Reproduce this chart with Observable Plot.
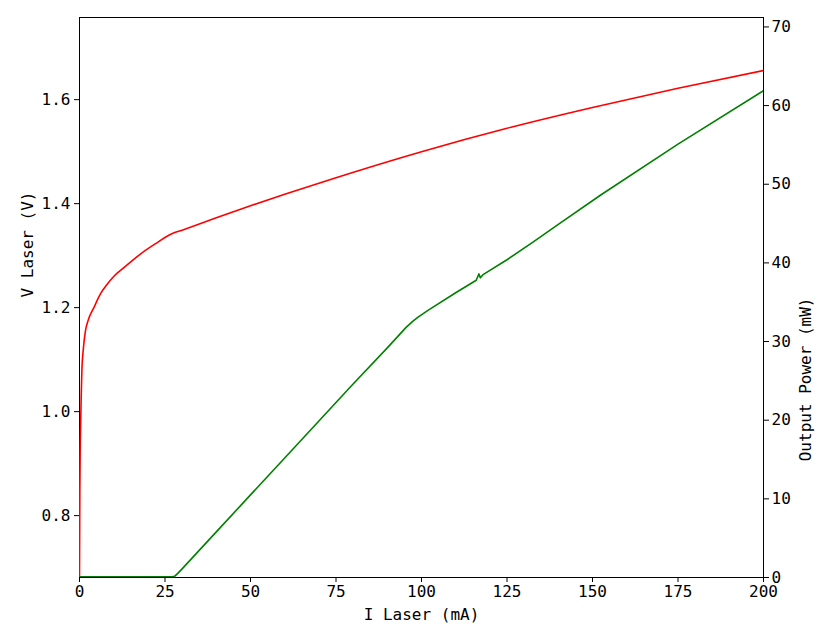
<!DOCTYPE html>
<html>
<head>
<meta charset="utf-8">
<script src="https://cdn.jsdelivr.net/npm/d3@7"></script>
<script src="https://cdn.jsdelivr.net/npm/@observablehq/plot@0.6"></script>
<style>
  html, body { margin: 0; padding: 0; background: white; }
  #wrap { position: relative; width: 822px; height: 626px; }
  #wrap svg { position: absolute; left: 0; top: 0; }
</style>
</head>
<body>
<div id="wrap"></div>
<script>
// Current (mA) and laser voltage (V)
const currentV = [0, 0.1, 0.2, 0.3, 0.5, 0.7, 1.07, 1.75, 2.5, 4.2, 6, 8.1, 10, 13, 17.8, 22, 27, 30, 40, 50, 60, 75, 100, 125, 150, 175, 200];
const voltage  = [0.68, 0.85, 0.93, 0.965, 1.03, 1.08, 1.117, 1.156, 1.175, 1.2, 1.225, 1.245, 1.26, 1.277, 1.303, 1.322, 1.342, 1.349, 1.373, 1.396, 1.418, 1.450, 1.5, 1.545, 1.585, 1.622, 1.656];

// Current (mA) and output power (mW)
const currentP = [0, 10, 20, 27, 27.8, 28.8, 30, 40, 50, 60, 70, 80, 90, 95.5, 97.5, 99, 102, 110, 116, 116.8, 117.2, 118, 125, 132.8, 140, 152.3, 175, 200];
const power    = [0.1, 0.1, 0.1, 0.1, 0.15, 0.55, 1.1, 5.8, 10.5, 15.2, 19.9, 24.6, 29.2, 31.8, 32.6, 33.1, 34.0, 36.2, 37.8, 38.6, 38.1, 38.5, 40.4, 42.7, 44.9, 48.6, 55.1, 61.9];

const xTicks = [0, 25, 50, 75, 100, 125, 150, 175, 200];
const vTicks = [0.8, 1.0, 1.2, 1.4, 1.6];
const pTicks = [0, 10, 20, 30, 40, 50, 60, 70];

const xLabel = "I Laser (mA)";
const vLabel = "V Laser (V)";
const pLabel = "Output Power (mW)";

const vData = currentV.map((c, i) => ({I: c, V: voltage[i]}));
const pData = currentP.map((c, i) => ({I: c, P: power[i]}));

const font = "'DejaVu Sans Mono', monospace";
const common = {
  width: 822, height: 626,
  marginLeft: 79, marginRight: 59, marginTop: 17, marginBottom: 49,
  x: {domain: [0, 200]}
};

const left = Plot.plot({
  ...common,
  style: {fontFamily: font, fontSize: "16px", color: "#000", background: "white"},
  y: {domain: [0.681, 1.758]},
  marks: [
    Plot.frame({stroke: "#000", strokeWidth: 1}),
    Plot.axisX({ticks: xTicks, tickSize: 5, tickPadding: 3, label: null, fontSize: 16}),
    Plot.axisY({ticks: vTicks, tickSize: 5, tickPadding: 4, tickFormat: d3.format(".1f"), label: null, fontSize: 16}),
    Plot.line(vData, {x: "I", y: "V", stroke: "#ff0000", strokeWidth: 1.6, curve: "monotone-x", clip: true}),
    Plot.text([xLabel], {text: d => d, frameAnchor: "bottom", dy: 42, fontSize: 16, fill: "#000"}),
    Plot.text([vLabel], {text: d => d, frameAnchor: "left", dx: -52, rotate: -90, fontSize: 16, fill: "#000"})
  ]
});

const right = Plot.plot({
  ...common,
  style: {fontFamily: font, fontSize: "16px", color: "#000", background: "transparent"},
  y: {domain: [0, 71.2]},
  marks: [
    Plot.axisX({ticks: [], label: null}),
    Plot.axisY({anchor: "right", ticks: pTicks, tickSize: 5, tickPadding: 3, label: null, fontSize: 16}),
    Plot.line(pData, {x: "I", y: "P", stroke: "#008000", strokeWidth: 1.6, curve: "linear", clip: true}),
    Plot.text([pLabel], {text: d => d, frameAnchor: "right", dx: 42, rotate: -90, fontSize: 16, fill: "#000"})
  ]
});

const wrap = document.getElementById("wrap");
wrap.appendChild(left);
wrap.appendChild(right);
</script>
</body>
</html>
